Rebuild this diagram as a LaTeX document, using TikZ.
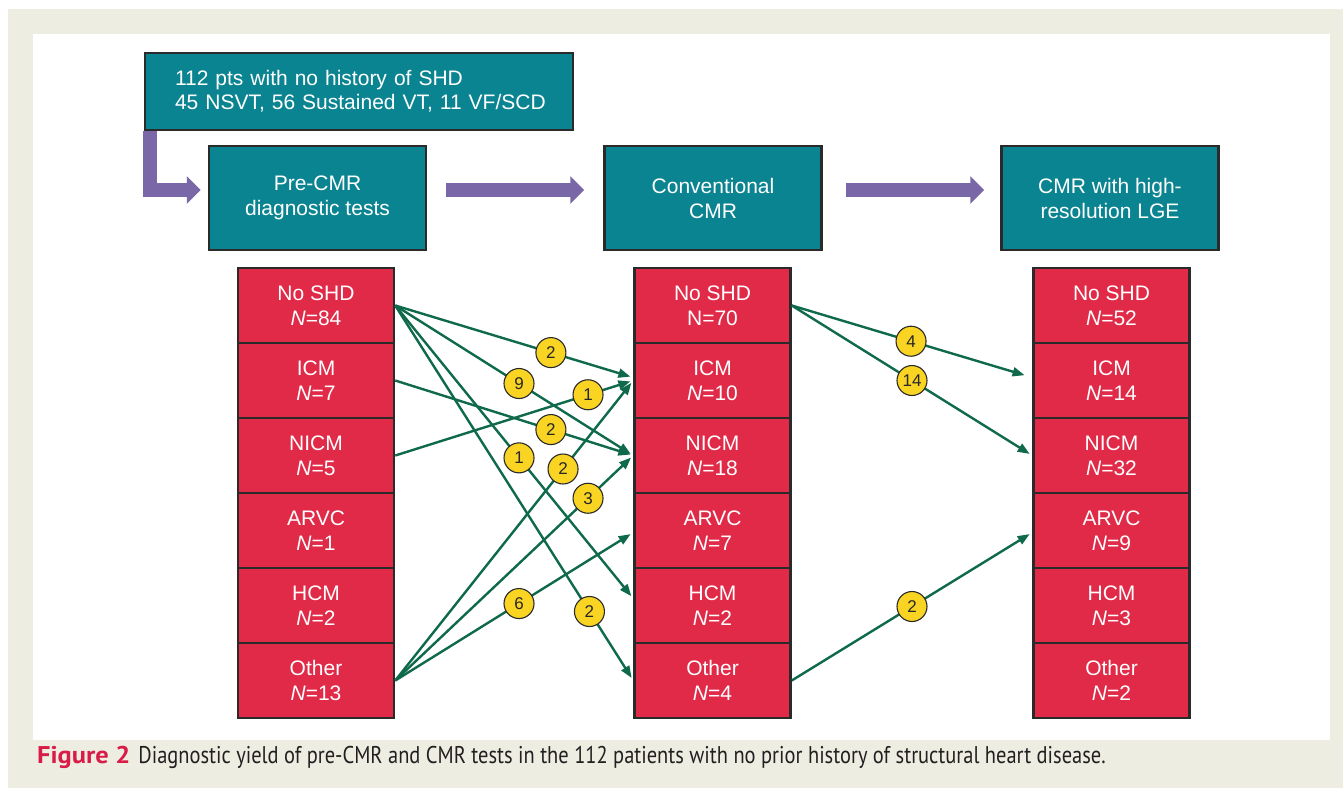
\documentclass[tikz,border=0pt]{standalone}
\usepackage{fontspec}
\setmainfont{Liberation Sans}
\newfontfamily\capfont{PT Sans}
\usetikzlibrary{arrows.meta,calc}
\definecolor{tealA}{HTML}{0A8491}
\definecolor{redA}{HTML}{E02A48}
\definecolor{purpA}{HTML}{7A67A8}
\definecolor{grnA}{HTML}{0E6A4A}
\definecolor{yelA}{HTML}{F9D423}
\definecolor{bordA}{HTML}{2A2A2A}
\definecolor{beigeA}{HTML}{EEEDE2}
\definecolor{capred}{HTML}{D91B47}
\definecolor{captxt}{HTML}{231F20}
\begin{document}
\begin{tikzpicture}[x=1pt,y=-1pt,
 hdr/.style={draw=bordA,line width=2.5pt,fill=tealA,text=white,minimum width=217pt,minimum height=104pt,align=center,font=\fontsize{21}{25}\selectfont,inner sep=0pt},
 cell/.style={draw=bordA,line width=2.5pt,fill=redA,text=white,minimum width=156pt,minimum height=75pt,align=center,font=\fontsize{21}{25}\selectfont,inner sep=0pt},
 flow/.style={draw=grnA,line width=2.4pt,-{Triangle[length=12pt,width=9pt]},shorten >=3pt},
 lab/.style={circle,draw=bordA,line width=1.1pt,fill=yelA,minimum size=30pt,inner sep=0pt,font=\fontsize{17}{17}\selectfont,text=black!85},
 big/.style={draw=purpA,line width=14.5pt,-{Triangle[length=14pt,width=27pt]},line join=miter}
]
\useasboundingbox (0,0) rectangle (1343,788);
\fill[beigeA] (8,9) rectangle (1343,788);
\fill[white] (33,34) rectangle (1330,740);

% top box
\node[draw=bordA,line width=2.5pt,fill=tealA,text=white,align=left,text width=368pt,inner xsep=30pt,inner ysep=0pt,minimum height=77pt,font=\fontsize{21}{24}\selectfont] (top) at (359,91.5) {\mbox{112 pts with no history of SHD}\\\mbox{45 NSVT, 56 Sustained VT, 11 VF/SCD}};

% headers
\node[hdr] (pre) at (317.5,198) {Pre-CMR\\diagnostic tests};
\node[hdr] (conv) at (713,198) {Conventional\\CMR};
\node[hdr] (hires) at (1110,198) {CMR with high-\\resolution LGE};

% purple arrows
\draw[big] ($(top.south west)+(6,0)$) |- ($(pre.west)+(-7,-8)$);
\draw[big] ($(pre.east)+(19,-8)$) -- ($(conv.west)+(-19,-8)$);
\draw[big] ($(conv.east)+(23,-8)$) -- ($(hires.west)+(-16,-8)$);

% column 1
\node[cell] (a1) at (316,305.5) {No SHD\\\textit{N}=84};
\node[cell] (a2) at (316,380.5) {ICM\\\textit{N}=7};
\node[cell] (a3) at (316,455.5) {NICM\\\textit{N}=5};
\node[cell] (a4) at (316,530.5) {ARVC\\\textit{N}=1};
\node[cell] (a5) at (316,605.5) {HCM\\\textit{N}=2};
\node[cell] (a6) at (316,680.5) {Other\\\textit{N}=13};
% column 2
\node[cell] (b1) at (712.5,305.5) {No SHD\\N=70};
\node[cell] (b2) at (712.5,380.5) {ICM\\\textit{N}=10};
\node[cell] (b3) at (712.5,455.5) {NICM\\\textit{N}=18};
\node[cell] (b4) at (712.5,530.5) {ARVC\\\textit{N}=7};
\node[cell] (b5) at (712.5,605.5) {HCM\\\textit{N}=2};
\node[cell] (b6) at (712.5,680.5) {Other\\\textit{N}=4};
% column 3
\node[cell] (c1) at (1111.5,305.5) {No SHD\\\textit{N}=52};
\node[cell] (c2) at (1111.5,380.5) {ICM\\\textit{N}=14};
\node[cell] (c3) at (1111.5,455.5) {NICM\\\textit{N}=32};
\node[cell] (c4) at (1111.5,530.5) {ARVC\\\textit{N}=9};
\node[cell] (c5) at (1111.5,605.5) {HCM\\\textit{N}=3};
\node[cell] (c6) at (1111.5,680.5) {Other\\\textit{N}=2};

% flows column 1 -> 2
\draw[flow] (a1.east) -- coordinate[pos=0.654] (l1) ($(b2.west)+(0,-3)$);
\draw[flow] (a1.east) -- coordinate[pos=0.52] (l2) (b3.west);
\draw[flow] (a1.east) -- coordinate[pos=0.52] (l3) ($(b5.west)+(0,-7)$);
\draw[flow] (a1.east) -- coordinate[pos=0.816] (l4) (b6.west);
\draw[flow] (a2.east) -- coordinate[pos=0.654] (l5) (b3.west);
\draw[flow] (a3.east) -- coordinate[pos=0.81] (l6) (b2.west);
\draw[flow] (a6.east) -- coordinate[pos=0.705] (l7) (b2.west);
\draw[flow] (a6.east) -- coordinate[pos=0.81] (l8) (b3.west);
\draw[flow] (a6.east) -- coordinate[pos=0.52] (l9) ($(b4.west)+(0,2)$);
% flows column 2 -> 3
\draw[flow,shorten >=8pt] (b1.east) -- coordinate[pos=0.496] (m1) ($(c2.west)+(0,-3)$);
\draw[flow] (b1.east) -- coordinate[pos=0.5] (m2) (c3.west);
\draw[flow] (b6.east) -- coordinate[pos=0.5] (m3) ($(c4.west)+(0,2)$);

% labels
\node[lab] at (l1) {2};
\node[lab] at (l2) {9};
\node[lab] at (l3) {1};
\node[lab] at (l4) {2};
\node[lab] at (l5) {2};
\node[lab] at (l6) {1};
\node[lab] at (l7) {2};
\node[lab] at (l8) {3};
\node[lab] at (l9) {6};
\node[lab] at (m1) {4};
\node[lab] at (m2) {14};
\node[lab] at (m3) {2};

% caption
\node[anchor=base west,inner sep=0pt,text=captxt,font=\capfont\fontsize{22}{26}\selectfont] (cap) at (37,763) {\textcolor{capred}{\scalebox{1.2}[1.1]{\bfseries Figure 2}}\hspace{8pt}\scalebox{0.93}[1.1]{Diagnostic yield of pre-CMR and CMR tests in the 112 patients with no prior history of structural heart disease.}};
\end{tikzpicture}
\end{document}
